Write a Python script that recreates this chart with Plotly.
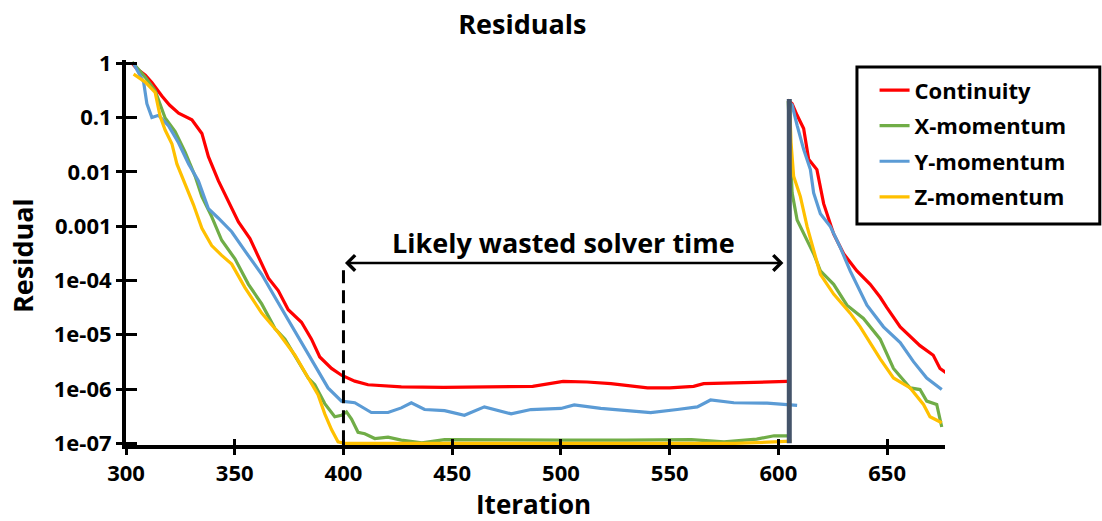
import math
import plotly.graph_objects as go

# ---------------- data ----------------
iter_cont = [302.8, 305, 308.9, 311.9, 316.5, 320, 324.2, 330.3, 334.9, 337.9, 342.5, 347.1, 351.7, 357,
             360.9, 365.5, 370, 374.6, 380.7, 385.3, 389.1, 394.5, 399.1, 405.2, 411.3, 426.6, 446, 470,
             487, 501, 512, 523, 539.8, 550, 561, 565.6, 585, 604,
             None,
             604.3, 606.3, 608.6, 611.6, 613.9, 617.7, 620.8, 625.4, 630, 636.1, 642.2, 646.8, 649.8, 656,
             665.1, 671.2, 674.3, 677.4]
res_cont = [1.0, 0.79, 0.6, 0.44, 0.25, 0.17, 0.12, 0.091, 0.051, 0.019, 0.0068, 0.0029, 0.0012, 5.9e-4,
            2.7e-4, 1.1e-4, 6.5e-5, 2.9e-5, 1.7e-5, 8.3e-6, 3.9e-6, 2.4e-6, 1.8e-6, 1.4e-6, 1.2e-6, 1.1e-6,
            1.07e-6, 1.1e-6, 1.12e-6, 1.38e-6, 1.35e-6, 1.26e-6, 1.05e-6, 1.05e-6, 1.12e-6, 1.26e-6,
            1.32e-6, 1.38e-6,
            None,
            0.21, 0.18, 0.11, 0.063, 0.017, 0.011, 0.0026, 7.2e-4, 3.1e-4, 1.5e-4, 8.5e-5, 4.9e-5, 3.2e-5,
            1.4e-5, 6.3e-6, 4.2e-6, 2.4e-6, 1.95e-6]

iter_xmom = [302.8, 308.9, 313.4, 318, 322.6, 327.2, 331.8, 334.9, 339.4, 344, 350.1, 356.3, 362.4, 368.5,
             373.1, 377.7, 383.8, 386.8, 391.4, 396, 399.1, 401.4, 403.7, 406.7, 409.8, 414.4, 420.5, 426.6,
             436, 446.5, 470, 500, 530, 560, 575, 590, 598, 605,
             None,
             604.5, 605.8, 606.3, 608.6, 611.6, 616.2, 619.3, 625.4, 631.5, 639.1, 646.8, 652.9, 660.6,
             665.1, 668.2, 672.8, 675.1]
res_xmom = [1.05, 0.55, 0.31, 0.098, 0.055, 0.023, 0.0083, 0.0035, 0.0015, 5.5e-4, 2.5e-4, 8.5e-5, 3.7e-5,
            1.3e-5, 8.3e-6, 4.2e-6, 1.6e-6, 1.2e-6, 5.4e-7, 3.1e-7, 3.3e-7, 3.8e-7, 2.8e-7, 1.6e-7, 1.5e-7,
            1.23e-7, 1.3e-7, 1.15e-7, 1.02e-7, 1.17e-7, 1.15e-7, 1.15e-7, 1.15e-7, 1.17e-7, 1.07e-7,
            1.2e-7, 1.38e-7, 1.38e-7,
            None,
            0.2, 0.017, 0.0041, 0.0013, 7.2e-4, 3.1e-4, 1.5e-4, 8.5e-5, 3.5e-5, 2.0e-5, 8.3e-6, 2.4e-6,
            1.05e-6, 9.8e-7, 6.0e-7, 5.2e-7, 2.0e-7]

iter_ymom = [303.5, 308.1, 309.6, 311.9, 315, 319.6, 324.2, 328.8, 333.3, 337.9, 342.5, 348.6, 354.7, 362.4,
             368.5, 374.6, 380.7, 386.8, 392.9, 399.1, 405.2, 412.8, 420.5, 426.6, 431.2, 437.3, 446.5,
             455.6, 464.8, 477.1, 486.2, 500, 506.1, 518.3, 533.6, 541.3, 553.5, 562.7, 568.8, 579.5,
             594.8, 608.6,
             None,
             604.7, 606.3, 608.6, 611.6, 614.7, 616.2, 619.3, 623.9, 628.4, 633, 640.7, 648.3, 656, 662.1,
             668.2, 675.1]
res_ymom = [0.98, 0.45, 0.18, 0.1, 0.11, 0.07, 0.034, 0.014, 0.0068, 0.0021, 0.0014, 7.9e-4, 3.5e-4,
            1.3e-4, 4.9e-5, 1.9e-5, 7.2e-6, 2.8e-6, 1.05e-6, 6.0e-7, 5.6e-7, 3.7e-7, 3.7e-7, 4.5e-7,
            5.6e-7, 4.2e-7, 4.0e-7, 3.3e-7, 4.7e-7, 3.5e-7, 4.2e-7, 4.4e-7, 5.1e-7, 4.4e-7, 4.0e-7,
            3.7e-7, 4.2e-7, 4.7e-7, 6.3e-7, 5.6e-7, 5.5e-7, 5.0e-7,
            None,
            0.2, 0.17, 0.072, 0.026, 0.011, 0.0041, 0.0017, 9.8e-4, 4.1e-4, 1.5e-4, 3.5e-5, 1.4e-5,
            7.2e-6, 3.2e-6, 1.6e-6, 9.8e-7]

iter_zmom = [303.5, 308.9, 313.4, 315.7, 318, 321.1, 323.4, 327.2, 331, 334.9, 339.4, 344, 348.6, 354.7,
             362.4, 370, 377.7, 383.8, 388.3, 391.4, 394.5, 397.5, 400.6, 450, 500, 550, 580, 595, 606,
             None,
             605.2, 605.8, 607, 610.1, 613.2, 617.7, 619.3, 625.4, 633, 637.6, 642.2, 646.8, 652.9, 660.6,
             666.7, 669.7, 675.1]
res_zmom = [0.63, 0.45, 0.29, 0.105, 0.059, 0.033, 0.014, 0.0058, 0.0025, 9.1e-4, 4.4e-4, 2.9e-4, 2.0e-4,
            7.4e-5, 2.5e-5, 1.1e-5, 4.2e-6, 1.6e-6, 7.9e-7, 3.5e-7, 1.8e-7, 1.07e-7, 1.0e-7, 1.0e-7,
            1.0e-7, 0.98e-7, 1.0e-7, 1.05e-7, 1.1e-7,
            None,
            0.17, 0.035, 0.0083, 0.0035, 9.8e-4, 2.3e-4, 1.3e-4, 5.6e-5, 2.5e-5, 1.4e-5, 7.2e-6, 3.6e-6,
            1.6e-6, 1.05e-6, 5.2e-7, 3.1e-7, 2.4e-7]

series_names = ["Continuity", "X-momentum", "Y-momentum", "Z-momentum"]
series_colors = ["#FF0000", "#70AD47", "#5B9BD5", "#FFC000"]

y_tick_vals = [1e-7, 1e-6, 1e-5, 1e-4, 1e-3, 1e-2, 1e-1, 1]
y_tick_text = ["1e-07", "1e-06", "1e-05", "1e-04", "0.001", "0.01", "0.1", "1"]
x_tick_vals = [300, 350, 400, 450, 500, 550, 600, 650]

restart_iter = 605
restart_top = 0.22
residual_floor = 1e-7
wasted_start = 400
wasted_end = 602.3
arrow_level = 2.1e-4
dash_top = 1.6e-4
label_iter = 501
label_level = 4.9e-4

x_range = [300, 676.6]
y_range_log = [-7.03, 0.06]

FONT = "Open Sans"

# ---------------- figure ----------------
fig = go.Figure()
for name, xs, ys, color in zip(series_names,
                               [iter_cont, iter_xmom, iter_ymom, iter_zmom],
                               [res_cont, res_xmom, res_ymom, res_zmom],
                               series_colors):
    fig.add_trace(go.Scatter(x=xs, y=ys, mode="lines", name=name, legendgroup=name,
                             connectgaps=False, line=dict(color=color, width=3.2)))

# dashed marker of where convergence stalled
fig.add_trace(go.Scatter(x=[wasted_start, wasted_start], y=[residual_floor, dash_top], mode="lines",
                         line=dict(color="black", width=3, dash="13px,7px"), showlegend=False,
                         xaxis="x", yaxis="y2", hoverinfo="skip"))
# restart line
fig.add_trace(go.Scatter(x=[restart_iter, restart_iter], y=[residual_floor, restart_top], mode="lines",
                         line=dict(color="#44546A", width=5), showlegend=False,
                         xaxis="x2", yaxis="y", hoverinfo="skip"))

xtickfont = dict(family=FONT, size=22, color="black", weight="bold")
ytickfont = dict(family=FONT, size=22, color="black", weight="bold")

# legend box geometry (paper coordinates)
legend_box = dict(x0=0.8925, x1=1.189, y0=0.574, y1=0.982)

fig.update_layout(
    width=1102, height=521,
    paper_bgcolor="white", plot_bgcolor="white",
    margin=dict(l=126, r=157, t=60, b=76),
    title=dict(text="Residuals", x=0.474, xref="container", xanchor="center",
               y=0.952, yref="container", yanchor="middle",
               font=dict(family=FONT, size=27, color="black", weight="bold")),
    xaxis=dict(range=x_range, autorange=False, showline=True, linewidth=4, linecolor="black",
               ticks="outside", ticklen=6, tickwidth=3, tickcolor="black",
               tickvals=x_tick_vals, tickfont=xtickfont, showgrid=False, zeroline=False),
    xaxis2=dict(range=x_range, autorange=False, overlaying="x", anchor="y", side="bottom",
                ticks="inside", ticklen=6, tickwidth=3, tickcolor="black",
                tickvals=x_tick_vals, showticklabels=False, showgrid=False, zeroline=False,
                showline=False),
    yaxis=dict(type="log", range=y_range_log, autorange=False, showline=True, linewidth=4,
               linecolor="black", ticks="outside", ticklen=6, tickwidth=3, tickcolor="black",
               tickvals=y_tick_vals, ticktext=y_tick_text, tickfont=ytickfont, showgrid=False,
               zeroline=False),
    yaxis2=dict(type="log", range=y_range_log, autorange=False, overlaying="y", anchor="x",
                side="left", ticks="inside", ticklen=11, tickwidth=3, tickcolor="black",
                tickvals=y_tick_vals, showticklabels=False, showgrid=False, zeroline=False,
                showline=False),
    legend=dict(x=0.914, y=0.976, xanchor="left", yanchor="top", bgcolor="rgba(0,0,0,0)",
                borderwidth=0, traceorder="grouped", tracegroupgap=4,
                font=dict(family=FONT, size=22, color="black", weight="bold")),
    showlegend=True,
)

fig.add_shape(type="rect", xref="paper", yref="paper", layer="above",
              line=dict(color="black", width=3), fillcolor="rgba(255,255,255,0)", **legend_box)

fig.add_annotation(x=wasted_end, y=math.log10(arrow_level), ax=wasted_start, ay=math.log10(arrow_level),
                   xref="x", yref="y", axref="x", ayref="y", text="", showarrow=True,
                   arrowhead=4, startarrowhead=4, arrowside="end+start", arrowsize=1.2,
                   startarrowsize=1.2, arrowwidth=2.5, arrowcolor="black")
fig.add_annotation(x=label_iter, y=math.log10(label_level), xref="x", yref="y", text="Likely wasted solver time",
                   showarrow=False, font=dict(family=FONT, size=27, color="black", weight="bold"))
fig.add_annotation(x=-0.127, y=0.4935, xref="paper", yref="paper", xanchor="center", yanchor="middle",
                   text="Residual", textangle=-90,
                   showarrow=False, font=dict(family=FONT, size=27, color="black", weight="bold"))
fig.add_annotation(x=0.497, y=-0.153, xref="paper", yref="paper", xanchor="center", yanchor="middle",
                   text="Iteration",
                   showarrow=False, font=dict(family=FONT, size=26, color="black", weight="bold"))

fig.write_html("out.html")
